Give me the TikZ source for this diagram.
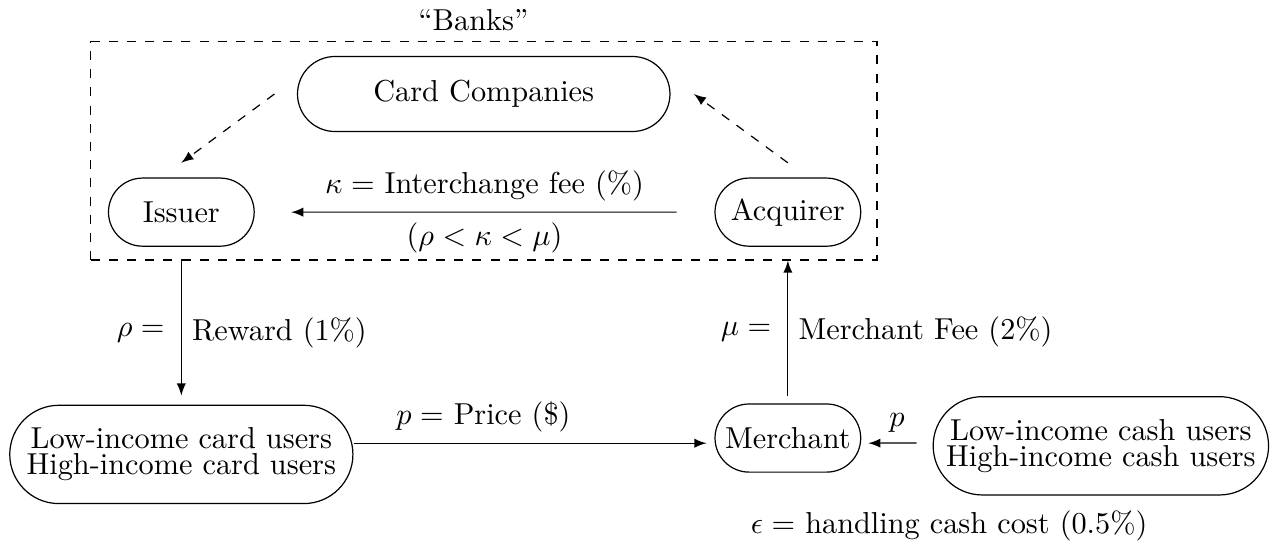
\documentclass[tikz,border=0pt]{standalone}
\usetikzlibrary{shapes.misc, arrows, positioning}

\tikzset{pill/.style={draw, rounded rectangle, inner sep=1pt}}
\tikzset{grp/.style={pill, align=center, font=\fontsize{10pt}{8.6pt}\selectfont}}

\begin{document}
\begin{tikzpicture}[>=latex]
    \useasboundingbox (0,0) rectangle (14.74,-6.28);

    \node[draw, dashed, minimum width=9.12cm, minimum height=2.53cm] (banks) at (5.61,-1.75) {};
    \node[anchor = south] (bankslabel) at ([xshift=-0.12cm] banks.north) {``Banks''};

    \node[pill, minimum width=4.39cm, minimum height=0.87cm] (cards) at ([yshift=0.66cm] banks) {Card Companies};
    \node[pill, minimum width=1.76cm, minimum height=0.79cm] (issuer) at ([xshift=1.06cm, yshift=-0.71cm] banks.west) {Issuer};
    \node[pill, minimum width=1.76cm, minimum height=0.79cm] (acquirer) at ([xshift=-1.04cm, yshift=-0.71cm] banks.east) {Acquirer};

    \node[pill, minimum width=1.76cm, minimum height=0.79cm] (merchant) at ([yshift=-2.62cm] acquirer) {Merchant};
    \node[grp, minimum width=4.05cm, minimum height=1.14cm] (cardusers) at ([yshift=-2.81cm] issuer) {Low-income card users\\High-income card users};
    \node[grp, minimum width=3.96cm, minimum height=1.14cm] (cashusers) at ([xshift=3.63cm, yshift=-0.09cm] merchant) {Low-income cash users\\High-income cash users};

    \node (cashcost) at ([xshift=-1.76cm, yshift=-0.35cm] cashusers.south) {$\epsilon =$ handling cash cost (0.5\%)};

    \draw[->, dashed] ([xshift=-0.26cm]cards.west) -- ([yshift=0.17cm]issuer.north);
    \draw[->, dashed] ([yshift=0.17cm]acquirer.north) -- ([xshift=0.27cm]cards.east);

    \draw[->, shorten <=12.5pt, shorten >=12pt] (acquirer) -- (issuer)
        node[midway, above] {$\kappa =$ Interchange fee (\%)}
        node[midway, below] {$(\rho < \kappa < \mu)$};

    \draw[->, shorten >=3pt] (issuer.south |- banks.south) -- (cardusers.north)
        node[midway, left, xshift=-2pt] {$\rho =$}
        node[midway, right] {Reward (1\%)};

    \draw[->, shorten <=2.3pt] (merchant.north) -- (acquirer.south |- banks.south)
        node[midway, left, xshift=-2pt] {$\mu =$}
        node[midway, right] {Merchant Fee (2\%)};

    \draw[->, shorten >=2.6pt] ([yshift=0.13cm]cardusers.east) -- ([yshift=-0.06cm]merchant.west)
        node[pos=0.36, above] {$p =$ Price (\$)};

    \draw[->, shorten <=5.3pt, shorten >=2.3pt] ([yshift=0.035cm]cashusers.west) -- ([yshift=-0.06cm]merchant.east)
        node[midway, above] {$p$};

\end{tikzpicture}
\end{document}
